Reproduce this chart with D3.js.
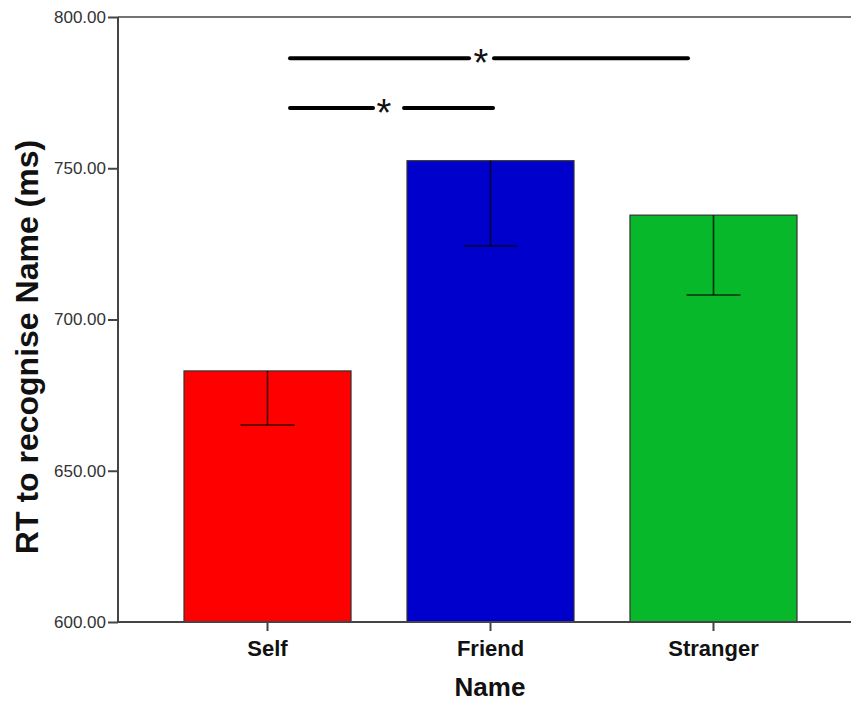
<!DOCTYPE html>
<html>
<head>
<meta charset="utf-8">
<script src="https://cdn.jsdelivr.net/npm/d3@7"></script>
<style>
  body { margin: 0; background: #fff; }
  svg { display: block; font-family: "Liberation Sans", Arial, sans-serif; }
</style>
</head>
<body>
<div id="chart"></div>
<script>
// data
const categories = ["Self", "Friend", "Stranger"];
const means = [683.0, 752.5, 734.5];
const errLow = [665.1, 724.3, 708.1];
const barColors = ["#ff0000", "#0000cc", "#06b82a"];
const yTicks = [600, 650, 700, 750, 800];
// significance brackets: from, to, level (ms)
const sigFrom = ["Self", "Self"];
const sigTo = ["Stranger", "Friend"];
const sigLevel = [786.4, 769.9];

const width = 851, height = 701;
const plotLeft = 118, plotTop = 17, plotBottom = 622;

const svg = d3.select("#chart").append("svg")
  .attr("width", width)
  .attr("height", height);

const y = d3.scaleLinear().domain([600, 800]).range([plotBottom, plotTop]);
const x = d3.scaleBand().domain(categories).range([plotLeft, 863])
  .paddingInner(0.251).paddingOuter(0.296);

// bars
svg.selectAll("rect.bar")
  .data(categories)
  .enter()
  .append("rect")
  .attr("class", "bar")
  .attr("x", d => x(d))
  .attr("width", x.bandwidth())
  .attr("y", (d, i) => y(means[i]))
  .attr("height", (d, i) => y(600) - y(means[i]))
  .attr("fill", (d, i) => barColors[i])
  .attr("stroke", "#333")
  .attr("stroke-width", 1.2);

// error bars (lower whisker only, as in the original)
const capW = 54;
categories.forEach((c, i) => {
  const cx = x(c) + x.bandwidth() / 2;
  svg.append("line")
    .attr("x1", cx).attr("x2", cx)
    .attr("y1", y(means[i])).attr("y2", y(errLow[i]))
    .attr("stroke", "#000").attr("stroke-opacity", 0.75).attr("stroke-width", 1.6);
  svg.append("line")
    .attr("x1", cx - capW / 2).attr("x2", cx + capW / 2)
    .attr("y1", y(errLow[i])).attr("y2", y(errLow[i]))
    .attr("stroke", "#000").attr("stroke-opacity", 0.75).attr("stroke-width", 1.6);
});

// frame: left axis, top and bottom lines
const axisColor = "#444";
svg.append("line").attr("x1", plotLeft).attr("x2", plotLeft).attr("y1", plotTop).attr("y2", plotBottom)
  .attr("stroke", axisColor).attr("stroke-width", 2);
svg.append("line").attr("x1", plotLeft).attr("x2", width).attr("y1", plotTop).attr("y2", plotTop)
  .attr("stroke", axisColor).attr("stroke-width", 1.5);
svg.append("line").attr("x1", plotLeft).attr("x2", width).attr("y1", plotBottom).attr("y2", plotBottom)
  .attr("stroke", axisColor).attr("stroke-width", 2);

// y axis ticks
const yAxis = svg.append("g")
  .attr("transform", `translate(${plotLeft},0)`)
  .call(d3.axisLeft(y).tickValues(yTicks).tickFormat(d3.format(".2f")).tickSize(10).tickPadding(2));
yAxis.select(".domain").remove();
yAxis.selectAll(".tick line").attr("stroke", axisColor).attr("stroke-width", 2);
yAxis.selectAll(".tick text")
  .attr("fill", "#333")
  .style("font-size", "17px")
  .style("font-family", "'Liberation Sans', Arial, sans-serif");

// x axis ticks
const xAxis = svg.append("g")
  .attr("transform", `translate(0,${plotBottom})`)
  .call(d3.axisBottom(x).tickSize(9).tickPadding(9));
xAxis.select(".domain").remove();
xAxis.selectAll(".tick line").attr("stroke", axisColor).attr("stroke-width", 2);
xAxis.selectAll(".tick text")
  .attr("fill", "#111")
  .style("font-size", "22px")
  .style("font-weight", "bold")
  .style("font-family", "'Liberation Sans', Arial, sans-serif");

// significance lines
const centre = c => x(c) + x.bandwidth() / 2;
sigFrom.forEach((f, i) => {
  const x1 = centre(f) + 22.5;
  const x2 = i === 0 ? centre(sigTo[i]) - 25.5 : centre(sigTo[i]) + 2.5;
  const yy = y(sigLevel[i]);
  const starX = i === 0 ? (x1 + x2) / 2 - 8 : x1 + 94;
  const gapL = i === 0 ? 12 : 11;
  const gapR = i === 0 ? 13 : 20;
  svg.append("line").attr("x1", x1).attr("x2", starX - gapL).attr("y1", yy).attr("y2", yy)
    .attr("stroke", "#000").attr("stroke-width", 4).attr("stroke-linecap", "round");
  svg.append("line").attr("x1", starX + gapR).attr("x2", x2).attr("y1", yy).attr("y2", yy)
    .attr("stroke", "#000").attr("stroke-width", 4).attr("stroke-linecap", "round");
  svg.append("text")
    .attr("x", starX).attr("y", yy + 18)
    .attr("text-anchor", "middle")
    .style("font-size", "38px")
    .attr("fill", "#111")
    .text("*");
});

// axis titles
svg.append("text")
  .attr("transform", `translate(38,${347}) rotate(-90)`)
  .attr("text-anchor", "middle")
  .style("font-size", "32px")
  .style("font-weight", "bold")
  .attr("fill", "#111")
  .text("RT to recognise Name (ms)");

svg.append("text")
  .attr("x", 490).attr("y", 696)
  .attr("text-anchor", "middle")
  .style("font-size", "26px")
  .style("font-weight", "bold")
  .attr("fill", "#111")
  .text("Name");
</script>
</body>
</html>
